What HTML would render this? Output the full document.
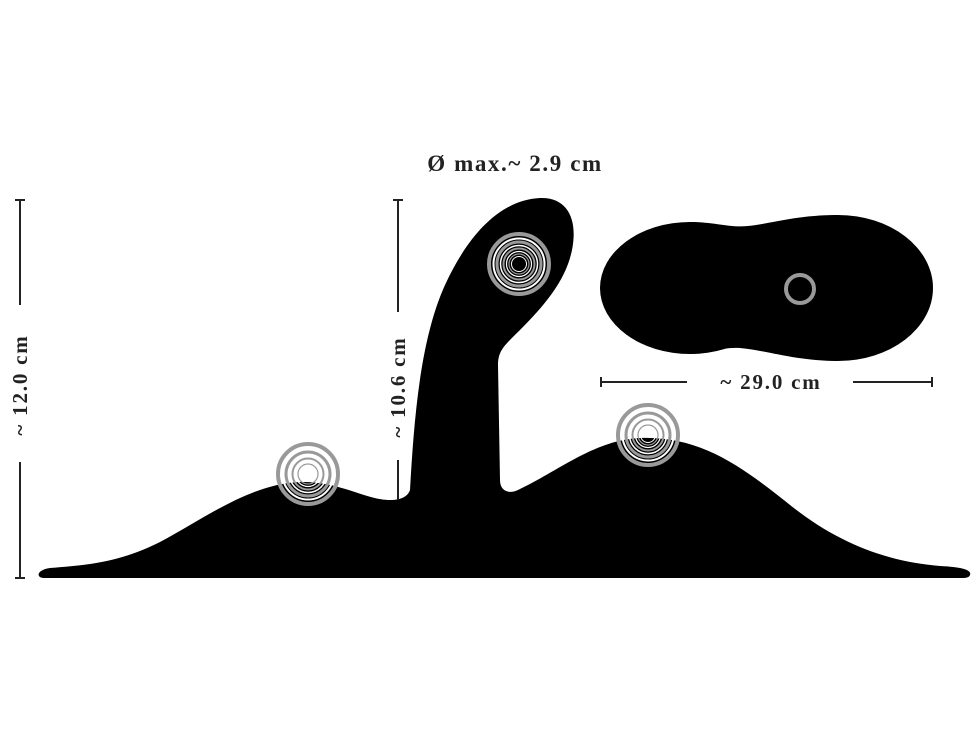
<!DOCTYPE html>
<html><head><meta charset="utf-8"><style>
html,body{margin:0;padding:0;background:#fff;}
svg{display:block;}
text{font-family:"Liberation Serif",serif;fill:#222;font-weight:bold;}
</style></head><body>
<svg width="980" height="735" viewBox="0 0 980 735" xmlns="http://www.w3.org/2000/svg">
<defs>
<g id="rings">
<circle r="30" fill="none" stroke="#999" stroke-width="4"/>
<circle r="25.5" fill="none" stroke="#fff" stroke-width="2"/>
<circle r="22" fill="none" stroke="#999" stroke-width="3"/>
<circle r="18.5" fill="none" stroke="#fff" stroke-width="1.5"/>
<circle r="15.5" fill="none" stroke="#999" stroke-width="2"/>
<circle r="12.5" fill="none" stroke="#fff" stroke-width="1.2"/>
<circle r="10" fill="none" stroke="#999" stroke-width="1.2"/>
<circle r="7.5" fill="none" stroke="#fff" stroke-width="1"/>
</g>
</defs>
<path fill="#000" d="M44,578 C36,578 36,570 50,568 C90,565 120,562 160,542 C205,518 250,484 300,482 C340,481 365,500 390,500 C402,500 408,496 410,490
C414,420 420,340 445,285 C468,235 500,200 540,198 C568,197 578,220 572,250 C566,280 545,305 520,330 C505,345 498,350 498,365
L500,480 C500,492 510,494 518,490 C560,470 595,440 640,438 C700,436 740,465 790,505 C840,545 890,562 940,566 C962,567 972,570 970,575 C969,578 965,578 960,578 Z"/>
<ellipse cx="690" cy="288" rx="90" ry="66" fill="#000"/>
<ellipse cx="838" cy="288" rx="95" ry="73" fill="#000"/>
<path fill="#000" d="M690,222 C715,222 730,228 748,226 C770,224 795,215 838,215 L838,361 C795,361 765,350 740,348 C720,347 705,354 690,354 Z"/>
<circle cx="800" cy="289" r="14" fill="none" stroke="#999" stroke-width="4"/>
<use href="#rings" x="308" y="474"/>
<use href="#rings" x="519" y="264"/>
<use href="#rings" x="648" y="435"/>
<g stroke="#222" stroke-width="2">
<line x1="20" y1="200" x2="20" y2="305"/>
<line x1="20" y1="462" x2="20" y2="578"/>
<line x1="15" y1="200" x2="25" y2="200"/>
<line x1="15" y1="578" x2="25" y2="578"/>
<line x1="398" y1="200" x2="398" y2="312"/>
<line x1="398" y1="460" x2="398" y2="500"/>
<line x1="393" y1="200" x2="403" y2="200"/>
<line x1="601" y1="382" x2="687" y2="382"/>
<line x1="853" y1="382" x2="932" y2="382"/>
<line x1="601" y1="377" x2="601" y2="387"/>
<line x1="932" y1="377" x2="932" y2="387"/>
</g>
<text x="515" y="171" font-size="23" text-anchor="middle" letter-spacing="1.6">Ø max.~ 2.9 cm</text>
<text x="771" y="389" font-size="21" text-anchor="middle" letter-spacing="1.8">~ 29.0 cm</text>
<text transform="translate(27,385) rotate(-90)" font-size="21" text-anchor="middle" letter-spacing="1.8">~ 12.0 cm</text>
<text transform="translate(405,387) rotate(-90)" font-size="21" text-anchor="middle" letter-spacing="1.8">~ 10.6 cm</text>
</svg>
</body></html>
